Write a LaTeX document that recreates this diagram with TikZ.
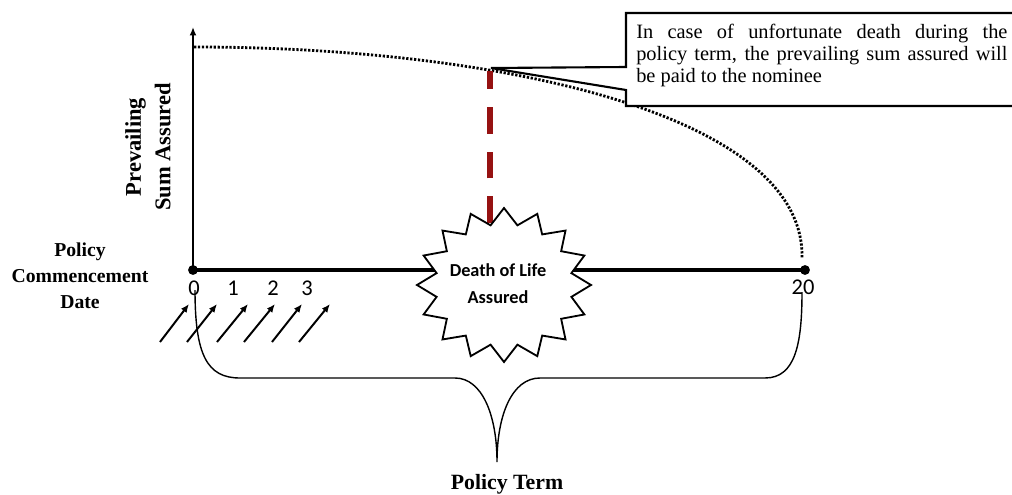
\documentclass[tikz,border=0pt]{standalone}
\usepackage{fontspec}
\setmainfont{Liberation Serif}
\newfontfamily\calib{Carlito}
\usetikzlibrary{arrows.meta}
\definecolor{deathred}{RGB}{150,18,18}
\begin{document}
\begin{tikzpicture}[x=0.025cm,y=-0.025cm,
  axisx/.style={line width=2.6pt},
  axisy/.style={line width=2pt,-{Latex[length=6pt,width=5pt]}},
  enddot/.style={circle,fill=black,inner sep=0pt,minimum size=7pt},
  curvedots/.style={line width=2pt,dash pattern=on 1.6pt off 1.2pt},
  reddash/.style={line width=4.3pt,draw=deathred,dash pattern=on 19pt off 12.8pt},
  tickl/.style={font=\calib\fontsize{16}{16}\selectfont,inner sep=0pt},
  lbl/.style={font=\bfseries\fontsize{14}{18.5}\selectfont,align=center,inner sep=0pt},
  hatch/.style={line width=1.4pt,-{Latex[length=6pt,width=5pt]}},
  bracesty/.style={line width=1pt},
  starsty/.style={line width=1.3pt,fill=white,line join=miter},
  callout/.style={line width=1.5pt,fill=white}]
\useasboundingbox (0,0) rectangle (1012,494);

% axes
\node[enddot] (o) at (193,270) {};
\node[enddot] (e) at (805,270) {};
\coordinate (ytop) at (193,27);
\draw[axisx] (o.center) -- (e.center);
\draw[axisy] (o.center) -- (ytop);

% prevailing sum assured curve
\coordinate (c0) at (194,47);
\coordinate (c1) at (802,258);
\draw[curvedots] (c0) .. controls (500,47) and (805,115) .. (c1);

% red dashed line
\coordinate (rb) at (490,223);
\coordinate (rt) at (490,71);
\draw[reddash] (rb) -- (rt);

% star
\draw[starsty] \foreach \i in {0,...,31}{
  \pgfextra{\pgfmathsetmacro{\r}{mod(\i,2)==0 ? 1 : 0.79}
            \pgfmathsetmacro{\a}{90+\i*11.25}}
  \ifnum\i=0 ({504+87*\r*cos(\a)},{285-77*\r*sin(\a)}) \else -- ({504+87*\r*cos(\a)},{285-77*\r*sin(\a)}) \fi
} -- cycle;
\node[font=\calib\bfseries\fontsize{13}{19}\selectfont,align=center,inner sep=0pt] (death) at (498,284) {Death of Life\\Assured};

% callout (box runs past the right edge of the picture)
\coordinate (tip) at (491,68);
\begin{scope}
  \clip (0,0) rectangle (1012,494);
  \draw[callout] (626,67) -- (626,13) -- (1080,13) -- (1080,106) -- (626,106) -- (626,90) -- (tip) -- cycle;
\end{scope}
\node[anchor=north west,text width=264pt,inner sep=0pt,align=justify,
      font=\fontsize{14.5}{15.6}\selectfont] (note) at (636,24)
  {In case of unfortunate death during the\linebreak policy term, the prevailing sum assured will\linebreak be paid to the nominee};

% labels
\node[lbl] (pcd) at (80,276) {Policy\\Commencement\\Date};
\node[font=\bfseries\fontsize{16}{21}\selectfont,align=center,inner sep=0pt,rotate=90] (psa) at (148,147) {Prevailing\\Sum Assured};
\node[font=\bfseries\fontsize{15.5}{18}\selectfont,inner sep=0pt] (pt) at (507,484) {Policy Term};

% tick labels
\node[tickl] (t0) at (194,288) {0};
\node[tickl] (t1) at (233,288) {1};
\node[tickl] (t2) at (273,288) {2};
\node[tickl] (t3) at (307,288) {3};
\node[tickl] (t20) at (803,287) {20};

% hatch arrows
\foreach \xs/\xe in {160/189,187/217,217/248,244/275,272/302,299/330}{
  \coordinate (hs) at (\xs,342);
  \coordinate (he) at (\xe,304);
  \draw[hatch] (hs) -- (he);
}

% brace
\coordinate (bl) at (195,290);
\coordinate (btip) at (497,462);
\coordinate (br) at (802,292);
\draw[bracesty] (bl) .. controls (195,355) and (207,378) .. (240,378) -- (455,378)
  .. controls (482,378) and (497,415) .. (btip)
  .. controls (497,415) and (512,378) .. (540,378) -- (765,378)
  .. controls (795,378) and (802,345) .. (br);
\end{tikzpicture}
\end{document}
